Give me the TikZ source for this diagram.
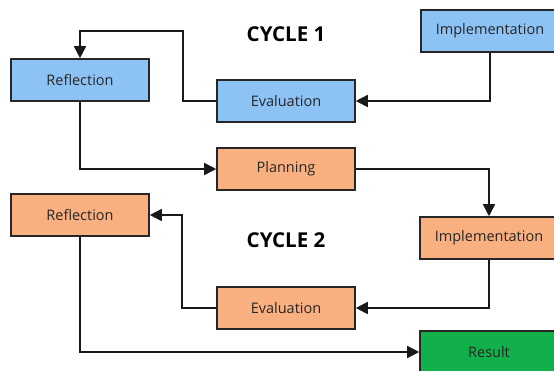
\documentclass[tikz,border=0pt]{standalone}
\usepackage{fontspec}
\setmainfont{Open Sans}
\usetikzlibrary{arrows.meta}
\definecolor{cycleblue}{RGB}{141,195,244}
\definecolor{cycleorange}{RGB}{249,176,128}
\definecolor{resultgreen}{RGB}{18,176,74}
\tikzset{
  box/.style={draw=black!85,line width=1.6pt,minimum width=138pt,minimum height=42pt,
    inner sep=0pt,font=\fontsize{14.5}{16}\selectfont,text=black!85},
  bluebox/.style={box,fill=cycleblue},
  orangebox/.style={box,fill=cycleorange},
  arr/.style={line width=1.6pt,draw=black!90,-{Triangle[length=12pt,width=12pt]}},
  title/.style={font=\fontsize{20.5}{24}\selectfont\bfseries}
}
\begin{document}
\begin{tikzpicture}[x=1pt,y=-1pt]
\useasboundingbox (0,0) rectangle (554,370);
\clip (0,0) rectangle (554,370);
% titles
\node[title] (t1) at (286,34) {CYCLE 1};
\node[title] (t2) at (286,240) {CYCLE 2};
% cycle 1
\node[bluebox] (impl1) at (490,31) {Implementation};
\node[bluebox] (eval1) at (286,101) {Evaluation};
\node[bluebox] (refl1) at (80,80) {Reflection};
% cycle 2
\node[orangebox] (plan) at (286,169) {Planning};
\node[orangebox] (impl2) at (489,238) {Implementation};
\node[orangebox] (eval2) at (286,308) {Evaluation};
\node[orangebox] (refl2) at (80,215) {Reflection};
% result
\node[box,fill=resultgreen] (result) at (489,352) {Result};
% turning points
\coordinate (turn1) at (183,31);
\coordinate (turn2) at (182,215);
% connectors
\draw[arr] (impl1.south) |- (eval1.east);
\draw[arr] (eval1.west) -| (turn1) -| (refl1.north);
\draw[arr] (refl1.south) |- (plan.west);
\draw[arr] (plan.east) -| (impl2.north);
\draw[arr] (impl2.south) |- (eval2.east);
\draw[arr] (eval2.west) -| (turn2) -- (refl2.east);
\draw[arr] (refl2.south) |- (result.west);
\end{tikzpicture}
\end{document}
